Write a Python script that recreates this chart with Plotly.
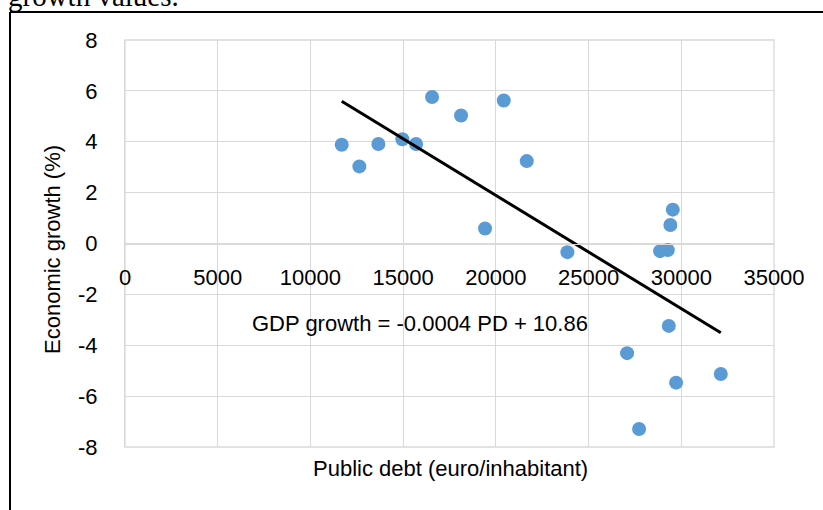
import numpy as np
import plotly.graph_objects as go

# Data
public_debt = [11688, 12638, 13664, 14957, 15696, 16559, 18123, 20426, 21667, 19417,
               23857, 29542, 29412, 28857, 29272, 29326, 27077, 32131, 29720, 27724]
gdp_growth = [3.88, 3.03, 3.91, 4.10, 3.91, 5.76, 5.03, 5.62, 3.24, 0.59,
              -0.34, 1.33, 0.73, -0.30, -0.26, -3.24, -4.31, -5.13, -5.47, -7.29]

x_ticks = [0, 5000, 10000, 15000, 20000, 25000, 30000, 35000]
y_ticks = [-8, -6, -4, -2, 0, 2, 4, 6, 8]
x_title = "Public debt (euro/inhabitant)"
y_title = "Economic growth (%)"
equation = "GDP growth = -0.0004 PD + 10.86"
top_text = "growth values."

# Linear trend (least squares)
slope, intercept = np.polyfit(public_debt, gdp_growth, 1)
tx = [min(public_debt), max(public_debt)]
ty = [slope * v + intercept for v in tx]

FONT = "Liberation Sans, Arial, sans-serif"
GRID = "#D9D9D9"
FS = 22

fig = go.Figure()
fig.add_trace(go.Scatter(x=public_debt, y=gdp_growth, mode="markers",
                         marker=dict(color="#5B9BD5", size=14, line=dict(width=0)),
                         showlegend=False, hoverinfo="skip"))
fig.add_trace(go.Scatter(x=tx, y=ty, mode="lines",
                         line=dict(color="black", width=3),
                         showlegend=False, hoverinfo="skip"))

W, H = 823, 510
L, R, T, B = 125, 49, 40, 63
pw, ph = W - L - R, H - T - B

def px_x(p):
    return (p - L) / pw

def px_y(p):
    return (H - B - p) / ph

fig.update_layout(
    width=W, height=H,
    margin=dict(l=L, r=R, t=T, b=B, autoexpand=False),
    paper_bgcolor="white", plot_bgcolor="white",
    font=dict(family=FONT, size=FS, color="black"),
    xaxis=dict(range=[0, 35000], tickvals=x_ticks, ticktext=[str(v) for v in x_ticks],
               showgrid=True, gridcolor=GRID, gridwidth=1.3,
               zeroline=False, showline=True, linecolor=GRID, linewidth=1.3,
               anchor="free", position=0.5, ticks="", ticklabelstandoff=14,
               tickfont=dict(family=FONT, size=FS, color="black")),
    yaxis=dict(range=[-8, 8], tickvals=y_ticks, ticktext=[str(v) for v in y_ticks],
               showgrid=True, gridcolor=GRID, gridwidth=1.3,
               zeroline=False, showline=True, linecolor=GRID, linewidth=1.3,
               ticks="", ticklabelstandoff=22,
               tickfont=dict(family=FONT, size=FS, color="black")),
    annotations=[
        dict(text=equation, x=15912, y=-3.13, xref="x", yref="y", showarrow=False,
             xanchor="center", yanchor="middle",
             font=dict(family=FONT, size=FS, color="black")),
        dict(text=x_title, x=px_x(450), y=px_y(469), xref="paper", yref="paper",
             xanchor="center", yanchor="middle",
             showarrow=False, font=dict(family=FONT, size=FS, color="black")),
        dict(text=y_title, x=px_x(53), y=px_y(250), xref="paper", yref="paper",
             xanchor="center", yanchor="middle",
             textangle=-90, showarrow=False,
             font=dict(family=FONT, size=FS, color="black")),
        dict(text=top_text, x=px_x(6), y=px_y(-4), xref="paper", yref="paper",
             xanchor="left", yanchor="middle", showarrow=False,
             font=dict(family="Liberation Serif, Times New Roman, serif", size=29, color="black")),
    ],
    shapes=[
        dict(type="rect", xref="paper", yref="paper", x0=0, x1=1, y0=0, y1=1,
             line=dict(color=GRID, width=1.3), layer="below"),
        dict(type="line", xref="paper", yref="paper",
             x0=px_x(10), x1=px_x(10), y0=px_y(12), y1=px_y(530),
             line=dict(color="black", width=2)),
        dict(type="line", xref="paper", yref="paper",
             x0=px_x(10), x1=px_x(840), y0=px_y(12), y1=px_y(12),
             line=dict(color="black", width=2)),
    ],
)

fig.write_html("out.html", config={"displayModeBar": False},
               post_script="document.body.style.margin='0px';document.body.style.overflow='hidden';")
